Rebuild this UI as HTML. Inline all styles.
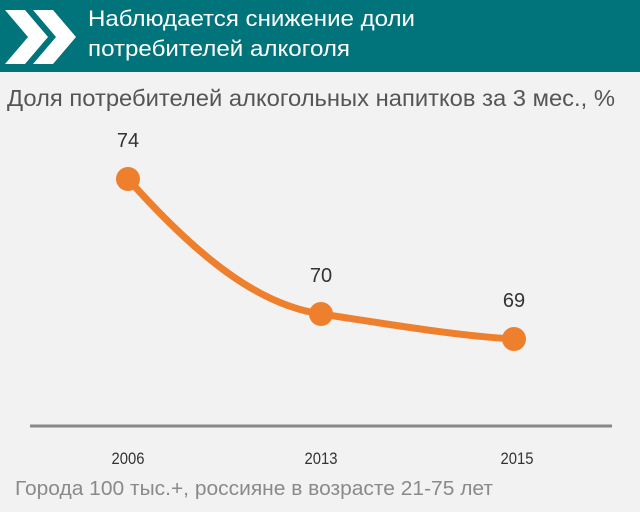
<!DOCTYPE html>
<html><head><meta charset="utf-8"><style>
body{margin:0;width:640px;height:507px;background:#f2f2f2;overflow:hidden;font-family:"Liberation Sans","DejaVu Sans",sans-serif;}
</style></head><body>
<svg width="640" height="507" xmlns="http://www.w3.org/2000/svg">
<rect x="0" y="0" width="640" height="72" fill="#00737b"/>
<polygon points="5,10 25,10 48,37 25,64 5,64 28,37" fill="#fff"/>
<polygon points="33,10 53,10 76,37 53,64 33,64 56,37" fill="#fff"/>
<text x="88" y="26" font-size="22" fill="#fff" textLength="327" lengthAdjust="spacingAndGlyphs">Наблюдается снижение доли</text>
<text x="88" y="56" font-size="22" fill="#fff" textLength="262" lengthAdjust="spacingAndGlyphs">потребителей алкоголя</text>
<text x="7" y="106" font-size="23" fill="#555" textLength="608" lengthAdjust="spacingAndGlyphs">Доля потребителей алкогольных напитков за 3 мес., %</text>
<line x1="30" y1="426" x2="612" y2="426" stroke="#888" stroke-width="3"/>
<path d="M128,179 C200,260 260,305 321,314 C400,326 460,336 514,339" fill="none" stroke="#ee7f2d" stroke-width="7" stroke-linecap="round"/>
<circle cx="128" cy="179" r="12" fill="#ee7f2d"/>
<circle cx="321" cy="314" r="12" fill="#ee7f2d"/>
<circle cx="514" cy="339" r="12" fill="#ee7f2d"/>
<g font-size="20" fill="#333" text-anchor="middle">
<text x="128" y="147">74</text>
<text x="321" y="282">70</text>
<text x="514" y="307">69</text>
</g>
<g font-size="17" fill="#333" text-anchor="middle">
<text x="128" y="464" textLength="33" lengthAdjust="spacingAndGlyphs">2006</text>
<text x="321" y="464" textLength="33" lengthAdjust="spacingAndGlyphs">2013</text>
<text x="517" y="464" textLength="33" lengthAdjust="spacingAndGlyphs">2015</text>
</g>
<text x="15" y="495" font-size="20" fill="#8a8a8a" textLength="478" lengthAdjust="spacingAndGlyphs">Города 100 тыс.+, россияне в возрасте 21-75 лет</text>
</svg>
</body></html>
